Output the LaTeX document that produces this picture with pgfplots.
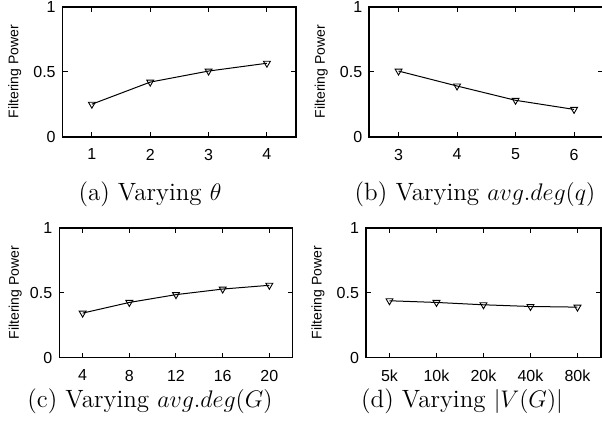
\documentclass[border=0pt]{standalone}
\usepackage{pgfplots}
\pgfplotsset{compat=1.18}
\usepackage{fontspec}
\newfontfamily\helv{Liberation Sans}

% gnuplot look: ticks inside, mirrored, small sans labels
\pgfplotsset{
  fp/.style={
    scale only axis, height=65pt,
    ymin=0, ymax=1, ytick={0,0.5,1}, yticklabels={0,0.5,1},
    axis line style={line width=0.8pt},
    tick align=inside, major tick length=2.5pt,
    tick style={black, line width=0.5pt},
    /pgf/number format/assume math mode=true,
    tick label style={font=\helv\fontsize{8}{9}\selectfont},
    xticklabel style={yshift=-2.6pt},
    ylabel={Filtering Power},
    ylabel style={at={(axis description cs:0,0.5)}, rotate=0, anchor=center, yshift=24pt,
      font=\helv\fontsize{7}{8}\selectfont},
  },
  fpline/.style={black, line width=0.5pt, mark=triangle, mark size=2pt,
    mark options={rotate=180, solid, fill=white, line width=0.45pt}},
}

\begin{document}
\begin{tikzpicture}
\path[use as bounding box] (0,0) rectangle (301pt,215pt);

% (a)
\begin{axis}[fp, width=116.7pt, at={(31.35pt,146.65pt)}, anchor=south west,
  xmin=0.5, xmax=4.5, xtick={1,2,3,4}]
  \addplot[fpline] coordinates {(1,0.25) (2,0.42) (3,0.505) (4,0.565)};
\end{axis}

% (b)
\begin{axis}[fp, width=117pt, at={(184.65pt,146.65pt)}, anchor=south west,
  xmin=2.5, xmax=6.5, xtick={3,4,5,6}]
  \addplot[fpline] coordinates {(3,0.505) (4,0.39) (5,0.28) (6,0.21)};
\end{axis}

% (c)
\begin{axis}[fp, width=116.7pt, at={(29.65pt,36.15pt)}, anchor=south west,
  xmin=-0.5, xmax=4.5, xtick={0,1,2,3,4}, xticklabels={4,8,12,16,20},
  ylabel style={yshift=-2pt}]
  \addplot[fpline] coordinates {(0,0.343) (1,0.425) (2,0.485) (3,0.528) (4,0.557)};
\end{axis}

% (d)
\begin{axis}[fp, width=117.5pt, at={(183pt,36.15pt)}, anchor=south west,
  xmin=-0.5, xmax=4.5, xtick={0,1,2,3,4}, xticklabels={5k,10k,20k,40k,80k}]
  \addplot[fpline] coordinates {(0,0.438) (1,0.425) (2,0.407) (3,0.394) (4,0.389)};
\end{axis}

\begin{scope}[every node/.style={anchor=base, inner sep=0pt, font=\fontsize{12.5}{15}\selectfont}]
  \node at (75pt,115pt) {(a) Varying $\theta$};
  \node at (237.5pt,115pt) {(b) Varying $avg.deg(q)$};
  \node at (75pt,11.2pt) {(c) Varying $avg.deg(G)$};
  \node at (231pt,11.2pt) {(d) Varying $|V(G)|$};
\end{scope}
\end{tikzpicture}
\end{document}
